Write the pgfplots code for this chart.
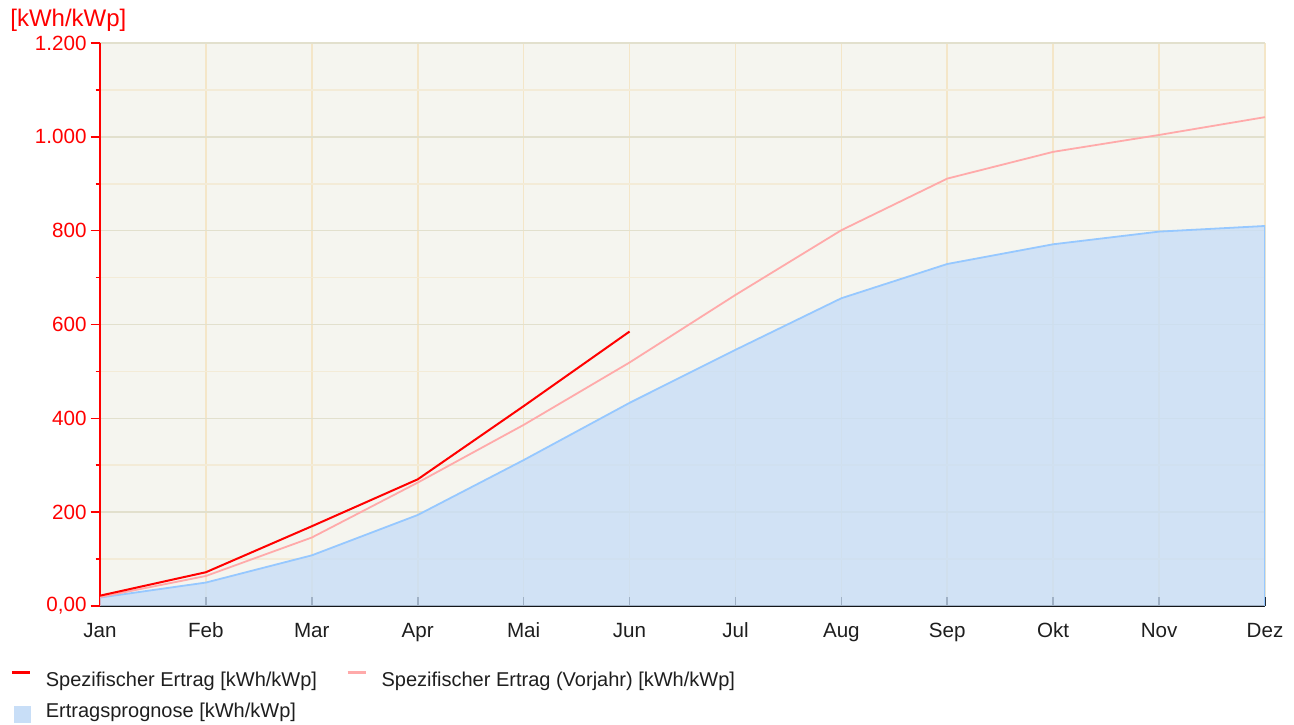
\documentclass[border=0pt]{standalone}
\usepackage{fontspec}
\setmainfont{Liberation Sans}
\usepackage{pgfplots}
\pgfplotsset{compat=1.18}
\definecolor{bgc}{RGB}{245,245,239}
\definecolor{gmaj}{RGB}{226,224,205}
\definecolor{gmin}{RGB}{243,235,215}
\definecolor{gx}{RGB}{244,230,200}
\definecolor{redl}{RGB}{255,0,0}
\definecolor{pinkl}{RGB}{255,170,170}
\definecolor{bluel}{RGB}{150,200,255}
\definecolor{bluef}{RGB}{200,222,247}
\definecolor{txt}{RGB}{30,30,30}
\begin{document}
\begin{tikzpicture}
\begin{axis}[
 name=ax,
 scale only axis, width=582.5pt, height=281.5pt,
 xmin=0, xmax=11, ymin=0, ymax=1200,
 axis x line*=bottom, axis y line*=left,
 x axis line style={-,black,line width=0.8pt},
 y axis line style={-,redl,line width=0.8pt},
 axis background/.style={fill=bgc},
 xtick={0,...,11},
 xticklabels={Jan,Feb,Mar,Apr,Mai,Jun,Jul,Aug,Sep,Okt,Nov,Dez},
 ytick={0,200,...,1200},
 yticklabels={{0,00},200,400,600,800,{1.000},{1.200}},
 minor y tick num=1,
 tick align=outside,
 major tick length=4.7pt, minor tick length=2.2pt,
 xtick style={black, line width=0.8pt, yshift=4.7pt},
 ytick style={redl, line width=0.8pt},
 grid=both,
 major x grid style={gx, line width=0.8pt},
 major y grid style={gmaj, line width=0.8pt},
 minor y grid style={gmin, line width=0.8pt},
 xticklabel style={font=\fontsize{10.3}{12}\selectfont, text=txt, text height=7.5pt, text depth=2pt, yshift=0pt},
 yticklabel style={font=\fontsize{10.3}{12}\selectfont, text=redl, xshift=1.5pt},
 legend columns=2, legend cell align=left,
 legend style={at={(rel axis cs:0,0)}, anchor=north west, xshift=-45pt, yshift=-31.5pt,
   draw=none, fill=none, inner sep=0pt, font=\fontsize{10}{12}\selectfont, text=txt,
   row sep=4pt,
   nodes={inner xsep=0pt, inner ysep=0pt, text height=8.5pt, text depth=3pt},
   /tikz/every even column/.append style={column sep=14.5pt}},
 legend image code/.code={\draw[#1] (0.5pt,4pt) -- (9.5pt,4pt); \path[draw=none,fill=none] (0pt,0pt) -- (17.5pt,0pt);},
]
\addlegendimage{redl, line width=1.5pt}
\addlegendentry{Spezifischer Ertrag [kWh/kWp]}
\addlegendimage{pinkl, line width=1.5pt}
\addlegendentry{Spezifischer Ertrag (Vorjahr) [kWh/kWp]}
\addlegendimage{legend image code/.code={\fill[bluef] (2pt,-5.3pt) rectangle (10pt,2.7pt); \path[draw=none,fill=none] (0pt,0pt) -- (17.5pt,0pt);}}
\addlegendentry{Ertragsprognose [kWh/kWp]}

\addplot[fill=bluef, fill opacity=0.8, draw=none, forget plot] table {
x y
0 18
1 50
2 108
3 194
4 311
5 433
6 546
7 656
8 729
9 771
10 798
11 810
} \closedcycle;
\addplot[bluel, line width=0.9pt, forget plot] table {
x y
0 18
1 50
2 108
3 194
4 311
5 433
6 546
7 656
8 729
9 771
10 798
11 810
11 0
};
\addplot[pinkl, line width=0.9pt, forget plot] table {
x y
0 19
1 64
2 146
3 263
4 386
5 519
6 663
7 801
8 911
9 968
10 1004
11 1042
};
\addplot[redl, line width=1pt, forget plot] table {
x y
0 22
1 72
2 170
3 270
4 426
5 585
};
\end{axis}
\node[anchor=base west, text=redl, font=\fontsize{12}{14}\selectfont, inner sep=0pt] at ([xshift=-45pt, yshift=8pt]ax.north west) {[kWh/kWp]};
\path ([xshift=-50pt, yshift=21.5pt]ax.north west) rectangle ([xshift=14.5pt, yshift=-59pt]ax.south east);
\end{tikzpicture}
\end{document}
